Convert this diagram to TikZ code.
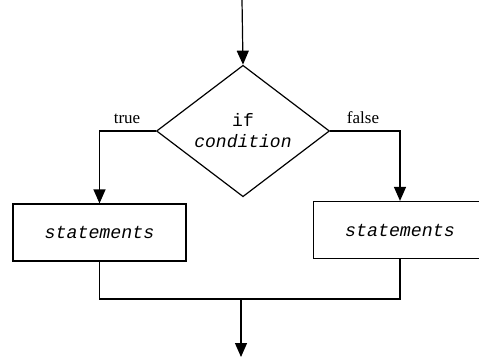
\documentclass[tikz,border=0pt]{standalone}
\usepackage{fontspec}
\setmainfont{Liberation Serif}
\newfontfamily\cmono{Liberation Mono}
\usetikzlibrary{shapes.geometric,arrows.meta}
\tikzset{
  flow/.style={draw=black,line width=1.2pt},
  arr/.style={flow,-{Triangle[width=12pt,length=14pt]}},
  stmt/.style={flow,rectangle,minimum width=173pt,minimum height=57pt,inner sep=0pt,font=\cmono\fontsize{18.3pt}{20pt}\selectfont\itshape},
  decision/.style={flow,diamond,minimum width=173pt,minimum height=118pt,inner sep=0pt,align=center,font=\cmono\fontsize{18pt}{21pt}\selectfont},
  lbl/.style={font=\fontsize{17pt}{19pt}\selectfont,inner sep=0pt}
}
\begin{document}
\begin{tikzpicture}[x=1pt,y=-1pt]
\useasboundingbox (0,0) rectangle (479,362);
\coordinate (start) at (242,0);
\node[decision] (d) at (243,131) {if\\\itshape condition};
\node[stmt] (lbox) at (99.5,232.5) {statements};
\node[stmt] (rbox) at (400,230) {statements};
\coordinate (j) at (241,299);
\coordinate (end) at (241,357);
\node[lbl] (t) at (127,119) {true};
\node[lbl] (f) at (363,118) {false};
\draw[arr] (start) -- (d.north);
\draw[arr] (d.west) -| (lbox.north);
\draw[arr] (d.east) -| (rbox.north);
\draw[flow] (lbox.south) -- (lbox.south |- j) -- (rbox.south |- j) -- (rbox.south);
\draw[arr] (j) -- (end);
\end{tikzpicture}
\end{document}
